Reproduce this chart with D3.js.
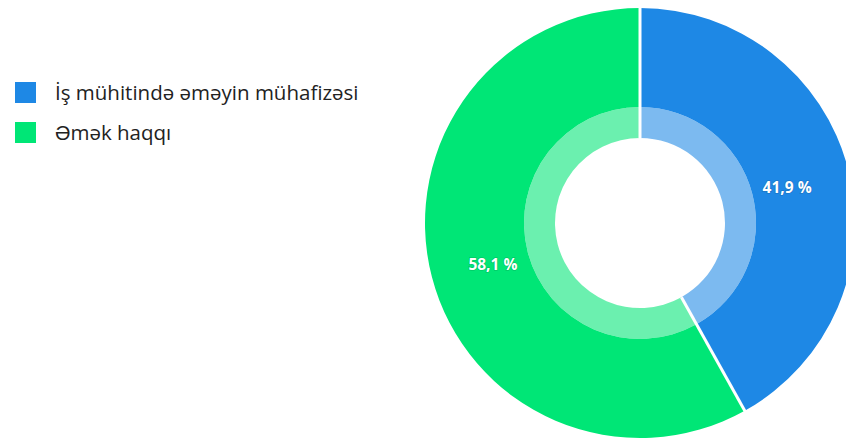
<!DOCTYPE html>
<html><head><meta charset="utf-8">
<script src="https://cdn.jsdelivr.net/npm/d3@7"></script>
<style>body{margin:0;background:#fff;}svg{display:block;}</style>
</head><body>
<svg id="c" width="846" height="439"></svg>
<script>
const categories = ["İş mühitində əməyin mühafizəsi", "Əmək haqqı"];
const values = [41.9, 58.1];
const labels = ["41,9 %", "58,1 %"];
const colors = ["#1E88E5", "#00E676"];

const svg = d3.select("#c");
const cx = 640, cy = 223, R = 215, Rin = 116, Rcore = 85;
const g = svg.append("g").attr("transform", `translate(${cx},${cy})`);
const pie = d3.pie().sort(null).value(d => d)(values);
const arcOuter = d3.arc().innerRadius(Rin).outerRadius(R);
const arcInner = d3.arc().innerRadius(Rcore).outerRadius(Rin);
g.selectAll("path.o").data(pie).enter().append("path").attr("class","o")
  .attr("d", arcOuter).attr("fill", (d,i) => colors[i]);
g.selectAll("path.i").data(pie).enter().append("path").attr("class","i")
  .attr("d", arcInner).attr("fill", (d,i) => colors[i]).attr("fill-opacity",0.58);
// white separators along slice boundaries
g.selectAll("line.sep").data(pie).enter().append("line").attr("class","sep")
  .attr("x1", d => Rcore*Math.sin(d.startAngle)).attr("y1", d => -Rcore*Math.cos(d.startAngle))
  .attr("x2", d => (R+2)*Math.sin(d.startAngle)).attr("y2", d => -(R+2)*Math.cos(d.startAngle))
  .attr("stroke","#fff").attr("stroke-width",3);
const arcLabel = d3.arc().innerRadius(152).outerRadius(152);
g.selectAll("text").data(pie).enter().append("text")
  .attr("transform", d => `translate(${arcLabel.centroid(d)})`)
  .attr("text-anchor","middle").attr("dy","0.55em")
  .attr("font-family","'Open Sans', sans-serif").attr("font-weight","bold")
  .attr("font-size",15.5).attr("fill","#fff")
  .style("paint-order","stroke").attr("stroke","rgba(0,0,0,0.15)").attr("stroke-width",1.5)
  .text((d,i) => labels[i]);

const lg = svg.append("g").attr("transform","translate(15,82)");
categories.forEach((c,i) => {
  const row = lg.append("g").attr("transform",`translate(0,${i*40})`);
  row.append("rect").attr("width",21).attr("height",21).attr("fill",colors[i]);
  row.append("text").attr("x",40).attr("y",11).attr("dy","0.35em")
    .attr("font-family","'Open Sans', sans-serif").attr("font-size",20.5).attr("fill","#222")
    .text(c);
});
</script>
</body></html>
